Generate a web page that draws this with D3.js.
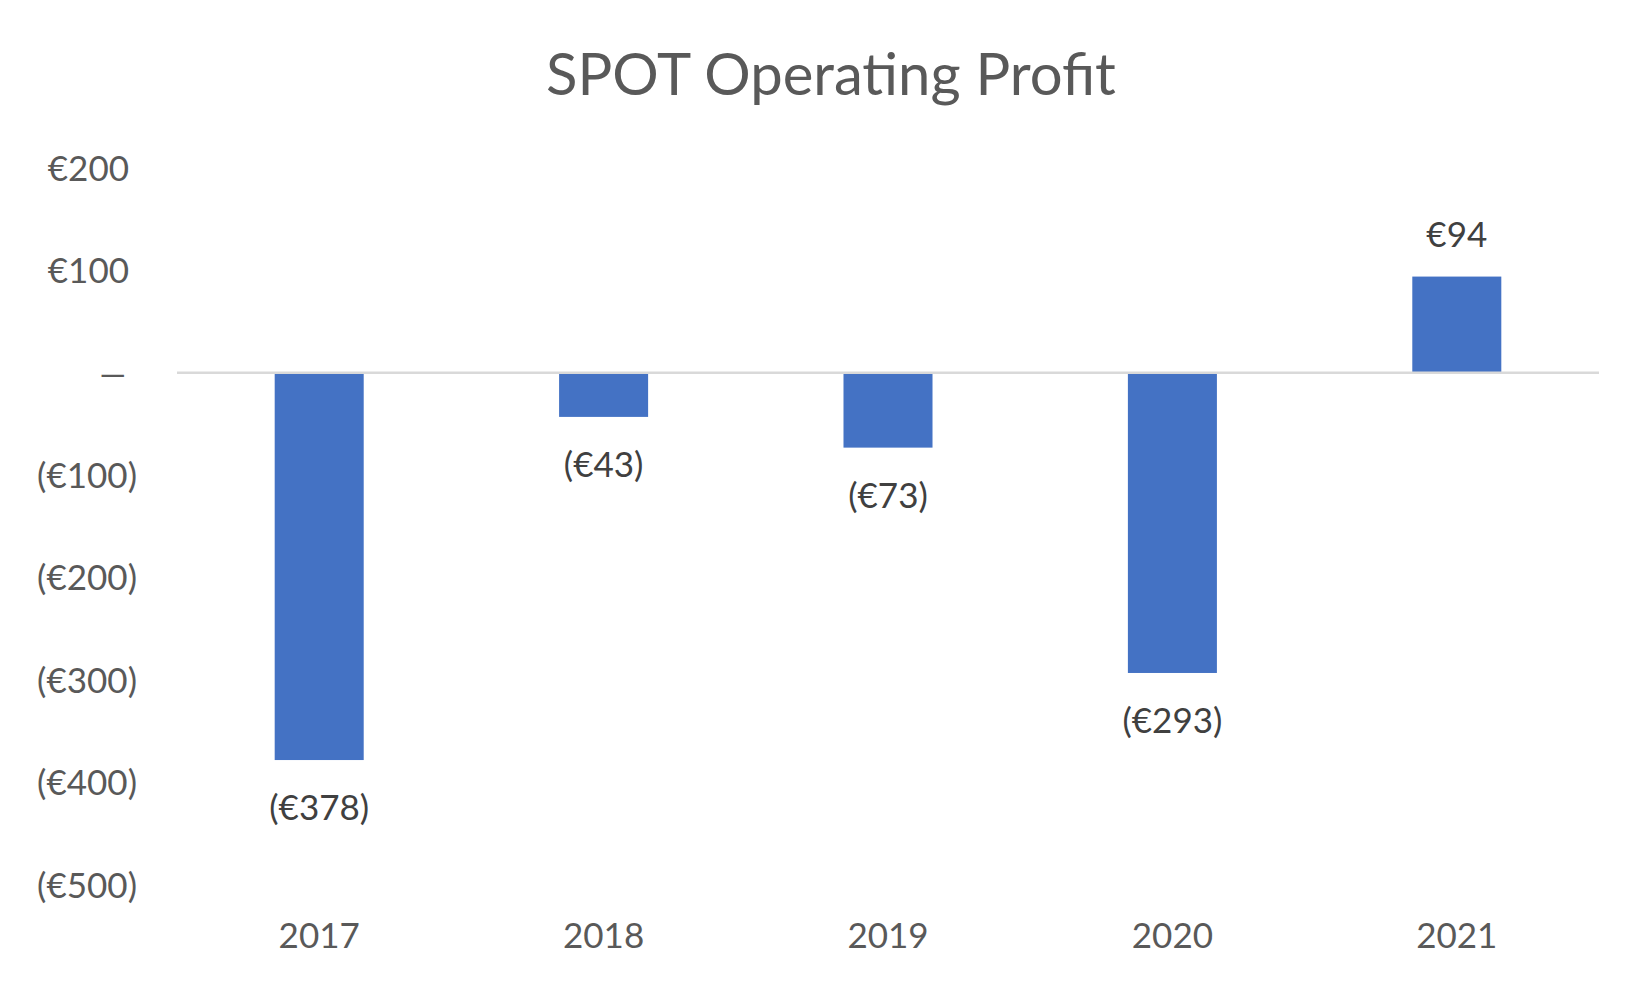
<!DOCTYPE html>
<html>
<head>
<meta charset="utf-8">
<script src="https://cdn.jsdelivr.net/npm/d3@7"></script>
<style>
  html, body { margin: 0; padding: 0; background: #ffffff; }
  svg { display: block; }
</style>
</head>
<body>
<div id="chart"></div>
<script>
// SPOT operating profit, € millions
const years = ["2017", "2018", "2019", "2020", "2021"];
const profit = [-378, -43, -73, -293, 94];
const yTicks = [200, 100, 0, -100, -200, -300, -400, -500];
const chartTitle = "SPOT Operating Profit";

const width = 1650;
const height = 990;
const fontFam = "Lato, 'Open Sans', sans-serif";

const plot = { left: 177, right: 1599, top: 168, bottom: 885 };

const svg = d3.select("#chart")
  .append("svg")
  .attr("width", width)
  .attr("height", height);

const x = d3.scaleBand()
  .domain(years)
  .range([plot.left, plot.right])
  .paddingInner(0.687)
  .paddingOuter(0.3435);

const y = d3.scaleLinear()
  .domain([-500, 200])
  .range([plot.bottom, plot.top]);

// formato contable: (€100), –, €200
const fmt = v => v === 0 ? "\u2013" : v < 0 ? `(€${Math.abs(v)})` : `€${v}`;

// eje Y (solo etiquetas)
const yAxis = svg.append("g")
  .call(d3.axisLeft(y).tickValues(yTicks).tickFormat(fmt).tickSize(0).tickPadding(0));
yAxis.select(".domain").remove();
yAxis.selectAll("text")
  .attr("x", d => d < 0 ? 137 : 129)
  .attr("dy", "0.35em")
  .attr("fill", "#595959")
  .attr("font-size", 35)
  .attr("font-family", fontFam)
  .attr("text-anchor", "end");
// el guion del cero es más ancho en el original
yAxis.selectAll("text").filter(d => d === 0)
  .attr("transform", "translate(129,0) scale(1.6,1) translate(-129,0)");

// barras
svg.append("g")
  .selectAll("rect")
  .data(profit)
  .join("rect")
  .attr("x", (d, i) => x(years[i]))
  .attr("width", x.bandwidth())
  .attr("y", d => y(Math.max(0, d)))
  .attr("height", d => Math.abs(y(d) - y(0)))
  .attr("fill", "#4472C4");

// línea del cero
svg.append("line")
  .attr("x1", plot.left)
  .attr("x2", plot.right)
  .attr("y1", y(0))
  .attr("y2", y(0))
  .attr("stroke", "#D9D9D9")
  .attr("stroke-width", 2.5);

// etiquetas de datos
svg.append("g")
  .selectAll("text")
  .data(profit)
  .join("text")
  .attr("x", (d, i) => x(years[i]) + x.bandwidth() / 2)
  .attr("y", d => d < 0 ? y(d) + 60 : y(d) - 30)
  .attr("text-anchor", "middle")
  .attr("fill", "#404040")
  .attr("font-size", 35)
  .attr("font-family", fontFam)
  .text(fmt);

// eje X
const xAxis = svg.append("g")
  .attr("transform", `translate(0,${plot.bottom})`)
  .call(d3.axisBottom(x).tickSize(0).tickPadding(0));
xAxis.select(".domain").remove();
xAxis.selectAll("text")
  .attr("y", 63)
  .attr("dy", 0)
  .attr("fill", "#595959")
  .attr("font-size", 35)
  .attr("font-family", fontFam);

// título
svg.append("text")
  .attr("x", 831)
  .attr("y", 95)
  .attr("text-anchor", "middle")
  .attr("fill", "#595959")
  .attr("font-size", 58)
  .attr("font-family", fontFam)
  .text(chartTitle);
</script>
</body>
</html>
